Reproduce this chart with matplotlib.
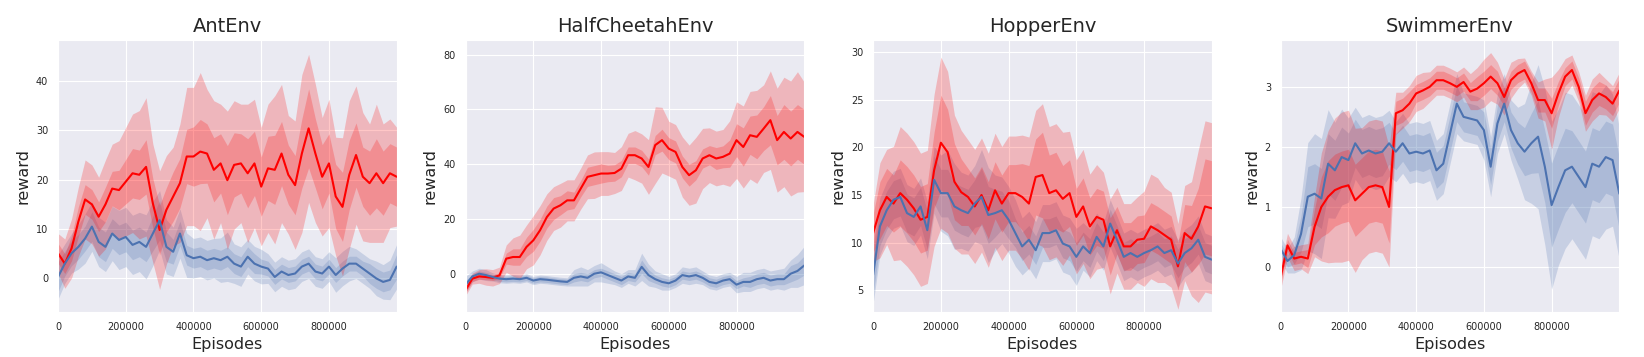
import numpy as np
import matplotlib
matplotlib.use('Agg')
import matplotlib.pyplot as plt
import seaborn as sns

sns.set_style('darkgrid')
plt.rcParams['font.family'] = ['DejaVu Sans']

# episodes, one reading every 20000
episodes = np.arange(51) * 20000

envs = ['AntEnv', 'HalfCheetahEnv', 'HopperEnv', 'SwimmerEnv']

# ---- AntEnv ----
ant_red = [5.1, 3.0, 6.1, 11.5, 16, 15, 12.5, 15, 18.2, 17.9,
           19.6, 21.3, 21, 22.6, 15.2, 9.8, 13.9, 16.6, 19.3, 24.7,
           24.7, 25.7, 25.3, 22, 23.3, 19.9, 23, 23.3, 21.3, 23.3,
           18.6, 22.3, 22, 25.3, 21, 18.9, 25.3, 30.4, 25.3, 20.6,
           23.3, 16.6, 14.5, 21, 25, 20.6, 19.3, 21.3, 19.3, 21.3, 20.6]
ant_red_in = [2, 2, 2.5, 3, 3, 3, 3, 3.5, 3.5, 4,
              4.5, 5, 5, 5.5, 5, 5, 4.5, 5, 5, 5.5,
              6, 6.5, 6, 6.5, 6, 7, 6.5, 6, 7, 6.5,
              6, 6.5, 7, 6.5, 6, 6, 7, 8, 7, 6.5,
              6, 6.5, 7, 7, 6.5, 6, 6.5, 7, 6.5, 6, 6]
ant_red_out = [4, 5, 6, 7, 8, 8, 8, 9, 9, 10,
               11, 12, 13, 14, 12, 12, 11, 10, 12, 14,
               14, 16, 13, 14, 12, 14, 13, 12, 14, 13,
               12, 13, 15, 14, 12, 13, 16, 15, 14, 12,
               13, 12, 14, 15, 14, 13, 12, 14, 12, 11, 10]
ant_blue = [0.3, 3.0, 5.1, 6.4, 8.1, 10.5, 7.4, 6.4, 9.1, 7.8,
            8.4, 6.8, 7.4, 6.4, 9.1, 11.8, 6.4, 5.4, 9.1, 4.7,
            4.1, 4.4, 3.7, 4.1, 3.7, 4.4, 3.0, 2.4, 4.4, 3.0,
            2.4, 2.0, 0.3, 1.4, 0.7, 1.0, 2.4, 3.0, 1.4, 1.0,
            2.4, 0.7, 2.0, 3.0, 3.0, 2.0, 1.0, 0.0, -0.7, -0.3, 2.4]
ant_blue_in = [3, 2.5, 2.5, 2.5, 2.5, 3, 3, 3, 3, 3,
               3, 3, 3, 3, 3.5, 4, 3, 2.5, 2.5, 2,
               2, 2, 2, 2, 2, 2, 2, 2, 2, 2,
               1.5, 1.5, 1.5, 1.5, 1.5, 1.5, 1.5, 1.5, 1.5, 1.5,
               1.5, 1.5, 1.5, 1.5, 1.5, 1.5, 2, 2, 2, 2, 2.5]
ant_blue_out = [4.5, 4, 4, 4.5, 5, 5, 5, 5, 5.5, 6,
                6, 6, 6, 6.5, 6.5, 6, 5.5, 5, 5, 4.5,
                4, 4, 4, 4, 4.5, 5, 4, 4, 3.5, 3.5,
                3.5, 3, 3, 3, 3, 3, 3, 3, 3, 3,
                3, 3.5, 3.5, 3.5, 3, 3, 3, 3.5, 3.5, 4, 4.5]

# ---- HalfCheetahEnv ----
hc_red = [-6, -1.8, -1, -1.2, -1.5, -0.6, 5.5, 6.1, 6.1, 9.8,
          12.2, 15.9, 20.7, 23.8, 25, 26.8, 26.8, 31.1, 35.4, 36,
          36.6, 36.6, 36.8, 38.4, 43.3, 43.3, 42.1, 39, 47, 48.8,
          45.7, 44.5, 39, 36, 37.8, 42.1, 43.3, 42.1, 42.7, 43.9,
          48.8, 46.3, 50.6, 50, 53, 56.1, 48.8, 51.8, 49.4, 51.8, 50]
hc_red_in = [1, 1, 1, 1, 1, 1, 2, 3, 3, 3.5,
             4, 4, 4, 4, 3.5, 3.5, 3, 3, 3.5, 3.5,
             3.5, 3, 3, 3, 3, 3, 3, 3, 3.5, 4,
             4, 4, 4, 4, 3.5, 3.5, 3.5, 4, 4, 5,
             6, 7, 7, 8, 8, 9, 9, 10, 10, 10, 10]
hc_red_out = [2, 2, 2.5, 3, 3, 3, 5, 7, 8, 8,
              9, 9, 8.5, 8, 8, 7.5, 7.5, 7.5, 8, 8.5,
              8, 8, 7.5, 8, 8, 9, 9, 10, 14, 12,
              10, 10, 11, 11, 12, 11, 10, 10, 10, 12,
              14, 15, 16, 17, 16, 18, 19, 20, 21, 22, 20]
hc_blue = [-4, -1, 0, -0.5, -1.2, -1.8, -2, -1.8, -2, -1.5,
           -2.5, -2, -2.2, -2.5, -2.8, -3, -1.5, -1, -1.5, 0,
           0.5, -0.5, -1.5, -2.5, -1, -1.5, 2.5, -0.5, -2, -3,
           -3.5, -2.5, -0.5, -1, -0.5, -1.5, -3, -3.5, -2.5, -2,
           -4, -3, -3, -2, -1.5, -2.5, -2, -2, 0, 1, 3]
hc_blue_in = [1.5, 1, 1, 1, 1, 1, 1, 1, 1, 1,
              1, 1, 1, 1, 1, 1, 1.5, 1.5, 1.5, 1.5,
              1.5, 1.5, 1.5, 1.5, 1.5, 1.5, 2.5, 2, 1.5, 1.5,
              1.5, 1.5, 1.5, 1.5, 1.5, 1.5, 1.5, 1.5, 1.5, 1.5,
              1.5, 1.5, 2, 2, 2, 2, 2, 2, 3, 3, 3.5]
hc_blue_out = [3, 2, 2, 2, 1.5, 1.5, 1.5, 1.5, 1.5, 1.5,
               1.5, 1.5, 1.5, 1.5, 1.5, 1.5, 3, 3.5, 3, 3,
               3.5, 3, 2.5, 2.5, 2.5, 3, 5, 4, 3, 3,
               2.5, 2.5, 3, 3, 3, 2.5, 2.5, 2.5, 2.5, 2.5,
               3, 3.5, 3.5, 3.5, 3.5, 3.5, 3.5, 4, 5, 6, 7]

# ---- HopperEnv ----
hop_red = [11, 13.4, 14.8, 14.1, 15.2, 14.5, 13.6, 12.4, 12.7, 17.6,
           20.5, 19.5, 16.4, 15.3, 14.8, 13.8, 15, 13.4, 15.5, 14.1,
           15.2, 15.2, 14.8, 14.1, 16.9, 17.1, 15.2, 15.5, 14.6, 15.2,
           12.7, 13.8, 11.7, 12.7, 12.4, 9.6, 11.3, 9.6, 9.6, 10.3,
           10.4, 11.7, 11.3, 10.8, 10.3, 7.5, 11, 10.4, 11.7, 13.8, 13.6]
hop_red_in = [2, 3, 3, 3, 3.5, 3.5, 3.5, 3.5, 3.5, 4,
              5, 4.5, 4, 3.5, 3, 3, 3, 3, 3, 3,
              3, 3, 3.5, 4, 4, 4.5, 4, 4, 3.5, 3.5,
              3, 3, 3, 3, 3, 3, 2.5, 2.5, 2.5, 2.5,
              2.5, 2.5, 2.5, 2.5, 2.5, 2.5, 3, 3.5, 4, 5, 5]
hop_red_out = [3, 5, 5, 6, 7, 7, 7, 7, 7, 8,
               9, 8.5, 7, 6.5, 6, 6, 6, 6, 6, 6,
               6, 6, 6.5, 7, 7, 7.5, 7, 7, 7, 6.5,
               6, 6, 5.5, 5.5, 5, 5, 4.5, 4.5, 4.5, 4.5,
               5, 5.5, 5.5, 5, 5, 4.5, 5, 6, 8, 9, 9]
hop_blue = [6.6, 11.7, 13.4, 14.5, 14.8, 13.1, 12.7, 13.8, 11.3, 16.6,
            15.2, 15.2, 13.8, 13.4, 13.1, 14.1, 14.8, 12.9, 13.1, 13.4,
            12.4, 11, 9.6, 10.3, 9.2, 11, 11, 11.3, 9.9, 9.6,
            8.5, 9.6, 8.9, 10.6, 9.6, 12, 10.3, 8.5, 8.9, 8.5,
            8.9, 9.2, 9.6, 8.9, 9.2, 7.8, 8.9, 9.4, 10.3, 8.5, 8.2]
hop_blue_in = [2, 2, 2, 2, 2, 2, 2, 2, 2, 2.5,
               2.5, 2.5, 2.5, 2.5, 2.5, 2.5, 3, 3, 2.5, 2,
               2, 1.5, 1.5, 1.5, 1.5, 1.5, 1.5, 1.5, 1.5, 1.5,
               1.5, 1.5, 1.5, 1.5, 1.5, 1.5, 1.5, 1.5, 1.5, 1.5,
               1.5, 1.5, 1.5, 1.5, 1.5, 1.5, 1.5, 1.5, 1.5, 1.5, 1.5]
hop_blue_out = [3, 3, 3, 3, 3, 3, 3, 3, 3, 3.5,
                4, 4.5, 4.5, 4, 4, 4, 5, 5, 4, 3.5,
                3.5, 3.5, 3, 3, 3, 3, 3, 3, 3, 3,
                3, 2.5, 2.5, 2.5, 2.5, 2.5, 2.5, 2.5, 2.5, 2.5,
                2.5, 2.5, 2.5, 2.5, 2.5, 2.5, 2.5, 2.5, 2.5, 2.5, 2.5]

# ---- SwimmerEnv ----
sw_red = [-0.17, 0.36, 0.14, 0.17, 0.14, 0.67, 1.0, 1.17, 1.28, 1.33,
          1.36, 1.11, 1.22, 1.33, 1.36, 1.33, 1.0, 2.56, 2.61, 2.72,
          2.89, 2.94, 3.0, 3.11, 3.11, 3.06, 3.0, 3.08, 2.92, 2.97,
          3.06, 3.17, 3.06, 2.83, 3.11, 3.22, 3.28, 3.06, 2.78, 2.78,
          2.56, 2.89, 3.17, 3.28, 3.0, 2.56, 2.78, 2.89, 2.83, 2.72, 2.94]
sw_red_in = [0.1, 0.1, 0.1, 0.1, 0.15, 0.3, 0.5, 0.6, 0.6, 0.6,
             0.6, 0.6, 0.6, 0.6, 0.6, 0.6, 0.6, 0.2, 0.2, 0.2,
             0.15, 0.15, 0.15, 0.15, 0.15, 0.15, 0.15, 0.15, 0.15, 0.2,
             0.2, 0.2, 0.2, 0.15, 0.15, 0.15, 0.15, 0.15, 0.2, 0.2,
             0.25, 0.2, 0.15, 0.15, 0.15, 0.2, 0.2, 0.2, 0.2, 0.2, 0.2]
sw_red_out = [0.2, 0.2, 0.2, 0.2, 0.25, 0.5, 0.9, 1.1, 1.2, 1.25,
              1.25, 1.2, 1.1, 1.1, 1.1, 1.1, 1.0, 0.35, 0.3, 0.3,
              0.3, 0.3, 0.25, 0.25, 0.25, 0.25, 0.25, 0.25, 0.3, 0.35,
              0.4, 0.4, 0.35, 0.3, 0.3, 0.25, 0.2, 0.2, 0.3, 0.35,
              0.6, 0.4, 0.3, 0.25, 0.25, 0.3, 0.35, 0.35, 0.3, 0.3, 0.3]
sw_blue = [0.3, 0.1, 0.2, 0.55, 1.17, 1.22, 1.14, 1.72, 1.61, 1.83,
           1.78, 2.06, 1.89, 1.94, 1.89, 1.92, 2.06, 1.92, 2.06, 1.89,
           1.92, 1.89, 1.94, 1.61, 1.72, 2.22, 2.72, 2.5, 2.47, 2.44,
           2.28, 1.67, 2.39, 2.72, 2.28, 2.06, 1.92, 2.06, 2.17, 1.67,
           1.03, 1.33, 1.61, 1.67, 1.5, 1.33, 1.72, 1.67, 1.83, 1.78, 1.22]
sw_blue_in = [0.1, 0.1, 0.15, 0.3, 0.5, 0.5, 0.5, 0.5, 0.5, 0.5,
              0.45, 0.4, 0.4, 0.4, 0.4, 0.4, 0.35, 0.3, 0.3, 0.3,
              0.3, 0.3, 0.3, 0.3, 0.3, 0.3, 0.3, 0.25, 0.25, 0.25,
              0.3, 0.3, 0.3, 0.3, 0.3, 0.35, 0.4, 0.5, 0.6, 0.6,
              0.7, 0.7, 0.7, 0.6, 0.6, 0.6, 0.6, 0.6, 0.6, 0.6, 0.6]
sw_blue_out = [0.2, 0.2, 0.3, 0.6, 0.9, 1.0, 1.0, 0.9, 0.8, 0.8,
               0.7, 0.6, 0.6, 0.6, 0.6, 0.6, 0.55, 0.5, 0.5, 0.5,
               0.5, 0.5, 0.5, 0.5, 0.5, 0.5, 0.5, 0.4, 0.4, 0.4,
               0.5, 0.5, 0.5, 0.5, 0.5, 0.6, 0.8, 1.0, 1.2, 1.3,
               1.4, 1.3, 1.3, 1.2, 1.2, 1.2, 1.2, 1.2, 1.2, 1.1, 1.1]

red_data = [(ant_red, ant_red_in, ant_red_out), (hc_red, hc_red_in, hc_red_out),
            (hop_red, hop_red_in, hop_red_out), (sw_red, sw_red_in, sw_red_out)]
blue_data = [(ant_blue, ant_blue_in, ant_blue_out), (hc_blue, hc_blue_in, hc_blue_out),
             (hop_blue, hop_blue_in, hop_blue_out), (sw_blue, sw_blue_in, sw_blue_out)]
ylims = [(-6.8, 48.3), (-14, 85.4), (2.7, 31.3), (-0.75, 3.78)]

blue = '#4c72b0'

fig, axes = plt.subplots(1, 4, figsize=(16.44, 3.57), dpi=100)
plt.subplots_adjust(left=0.0353, right=0.985, top=0.888, bottom=0.126, wspace=0.2035)

for i, ax in enumerate(axes):
    for (m, s_in, s_out), c in [(blue_data[i], blue), (red_data[i], 'red')]:
        m = np.array(m)
        s_in = np.array(s_in)
        s_out = np.array(s_out)
        ax.fill_between(episodes, m - s_out, m + s_out, color=c, alpha=0.22, lw=0)
        ax.fill_between(episodes, m - s_in, m + s_in, color=c, alpha=0.22, lw=0)
    ax.plot(episodes, red_data[i][0], color='red', lw=1.5)
    ax.plot(episodes, blue_data[i][0], color=blue, lw=1.5)
    ax.set_xlim(0, 1e6)
    ax.set_ylim(*ylims[i])
    ax.set_xticks([0, 200000, 400000, 600000, 800000])
    ax.set_xticklabels(['0', '200000', '400000', '600000', '800000'])
    ax.tick_params(labelsize=7, colors='#262626')
    ax.set_title(envs[i], fontsize=14, color='#262626')
    ax.set_xlabel('Episodes', fontsize=11.5, color='#262626')
    ax.set_ylabel('reward', fontsize=11.5, color='#262626')

plt.savefig('out.png', dpi=100)
